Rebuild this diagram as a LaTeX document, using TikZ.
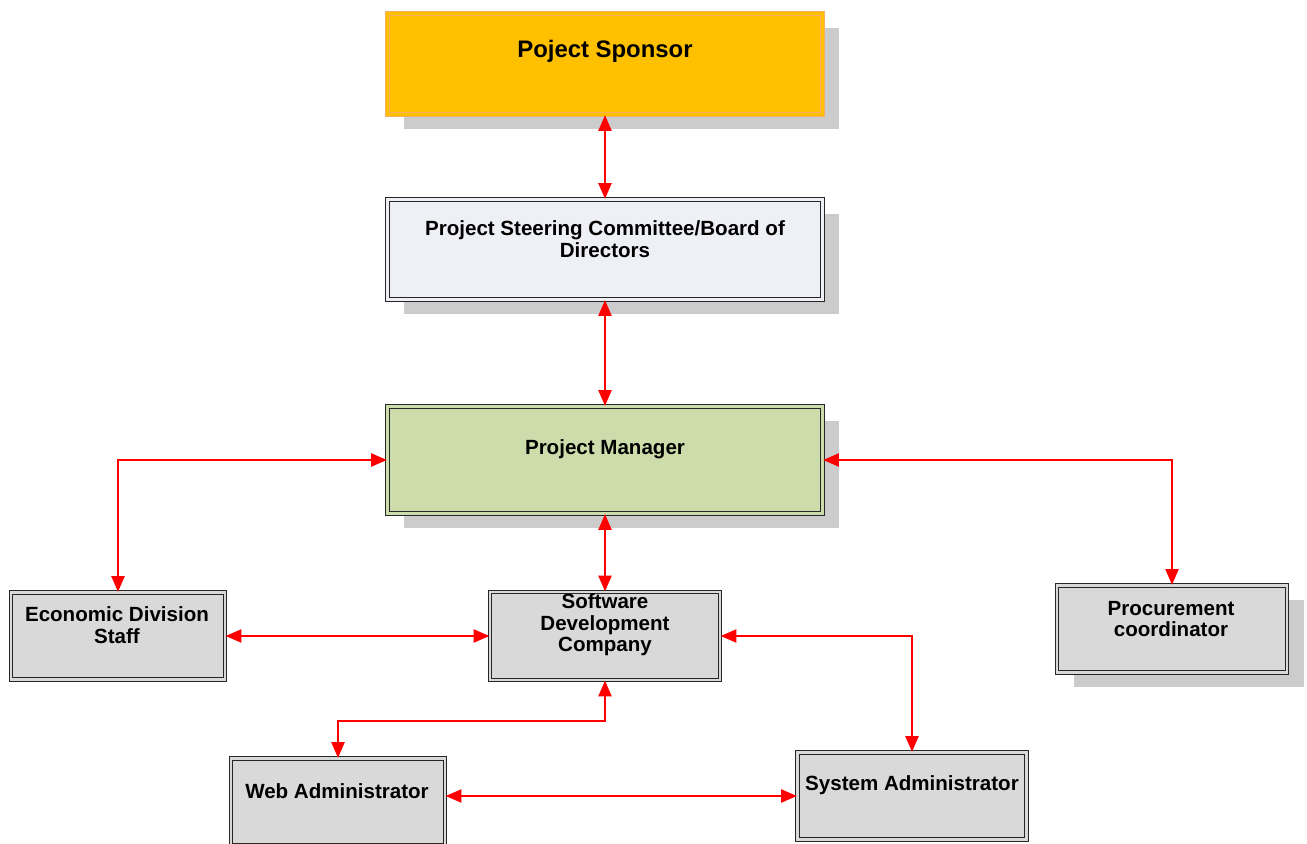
\documentclass[tikz,border=0pt]{standalone}
\usepackage{fontspec}
\setmainfont{Liberation Sans}
\usepackage{xcolor}
\usetikzlibrary{arrows.meta,shadows}
\definecolor{sponsorfill}{HTML}{FFC000}
\definecolor{sponsorline}{HTML}{F9AE68}
\definecolor{boardfill}{HTML}{EEF0F6}
\definecolor{pmfill}{HTML}{CCDCAA}
\definecolor{boxgray}{HTML}{D9D9D9}
\definecolor{shadegray}{HTML}{CCCCCC}

\begin{document}
\begin{tikzpicture}[x=0.02cm,y=-0.02cm,
  box/.style={draw=black!85,fill=#1,double=#1,double distance=1.2pt,line width=0.75pt,inner sep=0pt},
  box/.default=boxgray,
  boxshade/.style={drop shadow={shadow xshift=9.6pt,shadow yshift=-8pt,fill=shadegray,opacity=1}},
  txt/.style={font=\bfseries\fontsize{11.7}{12.3}\selectfont,align=center,inner sep=0pt},
  link/.style={red,line width=1.1pt,{Triangle[length=9pt,width=7.5pt]}-{Triangle[length=9pt,width=7.5pt]}}]
\useasboundingbox (0,0) rectangle (1307,844);

\node[box=sponsorfill,draw=sponsorline,boxshade,minimum width=8.7cm,minimum height=2.02cm] (sponsor) at (605,64) {};
\node[box=boardfill,boxshade,minimum width=8.7cm,minimum height=2cm] (board) at (605,249.5) {};
\node[box=pmfill,boxshade,minimum width=8.7cm,minimum height=2.14cm] (pm) at (605,460) {};
\node[box,minimum width=4.28cm,minimum height=1.74cm] (econ) at (118,636) {};
\node[box,minimum width=4.6cm,minimum height=1.76cm] (soft) at (605,636) {};
\node[box,boxshade,minimum width=4.6cm,minimum height=1.74cm] (proc) at (1172,629) {};
\node[box,minimum width=4.28cm,minimum height=1.74cm] (web) at (338,802) {};
\node[box,minimum width=4.58cm,minimum height=1.74cm] (sys) at (912,796) {};

\node[txt,font=\bfseries\fontsize{13.6}{15}\selectfont] (sponsor-t) at (605,51) {Poject Sponsor};
\node[txt] (board-t) at (605,239) {Project Steering Committee/Board of\\Directors};
\node[txt] (pm-t) at (605,449) {Project Manager};
\node[txt] (econ-t) at (117,625) {Economic Division\\Staff};
\node[txt] (soft-t) at (605,625) {Software\\Development\\Company};
\node[txt] (proc-t) at (1171,619) {Procurement\\coordinator};
\node[txt] (web-t) at (337,791) {Web Administrator};
\node[txt] (sys-t) at (912,785) {System Administrator};

\coordinate (webbend) at (338,721);
\draw[link] (sponsor.south) -- (board.north);
\draw[link] (board.south) -- (pm.north);
\draw[link] (pm.south) -- (soft.north);
\draw[link] (pm.west) -| (econ.north);
\draw[link] (pm.east) -| (proc.north);
\draw[link] (econ.east) -- (soft.west);
\draw[link] (soft.east) -| (sys.north);
\draw[link] (soft.south) |- (webbend) -- (web.north);
\draw[link] (sys.west -| web.east) -- (sys.west);
\end{tikzpicture}
\end{document}
